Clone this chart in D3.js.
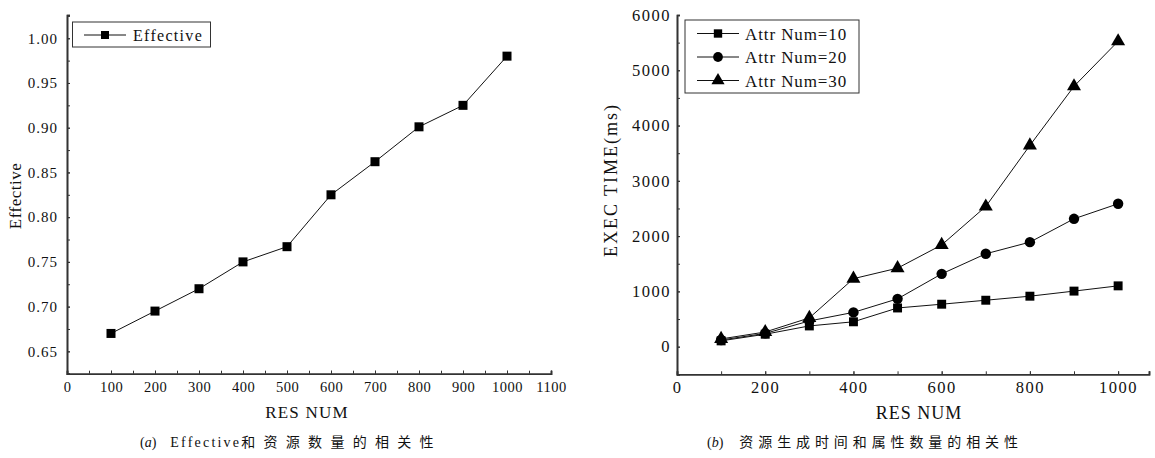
<!DOCTYPE html>
<html><head><meta charset="utf-8">
<script src="https://cdn.jsdelivr.net/npm/d3@7"></script>
<style>
body{margin:0;background:#fff;}
svg text{font-family:"Liberation Serif","Times New Roman","Noto Sans CJK SC",serif;fill:#111;}
</style></head>
<body>
<svg id="c" width="1155" height="458"></svg>
<script>
// ---- Data (a) ----
const resNumA = [100,200,300,400,500,600,700,800,900,1000];
const effective = [0.670,0.695,0.720,0.750,0.767,0.825,0.862,0.901,0.925,0.980];
const xTicksA = [0,100,200,300,400,500,600,700,800,900,1000,1100];
const yTicksA = [0.65,0.70,0.75,0.80,0.85,0.90,0.95,1.00];
// ---- Data (b) ----
const resNumB = [100,200,300,400,500,600,700,800,900,1000];
const attr10 = [105,225,375,450,700,768,840,913,1005,1100];
const attr20 = [120,240,465,620,865,1317,1680,1891,2313,2585];
const attr30 = [140,265,520,1230,1420,1840,2536,3641,4710,5525];
const seriesNamesB = ["Attr Num=10","Attr Num=20","Attr Num=30"];
const xTicksB = [0,200,400,600,800,1000];
const yTicksB = [0,1000,2000,3000,4000,5000,6000];

const svg = d3.select("#c");
const col = "#111";

function styleAxis(g){
  g.select(".domain").attr("stroke","#333").attr("stroke-width",1.6);
  g.selectAll(".tick line").attr("stroke","#333");
}

// ================= Chart (a) =================
const xA = d3.scaleLinear().domain([0,1100]).range([67,551]);
const yA = d3.scaleLinear().domain([0.625,1.026]).range([373.7,15]);

svg.append("g").attr("transform","translate(0,373.7)")
  .call(d3.axisBottom(xA).tickValues(d3.range(0,1101,50)).tickSize(-3).tickFormat(""))
  .call(styleAxis);
svg.append("g").attr("transform","translate(67,0)")
  .call(d3.axisLeft(yA).tickValues(d3.range(0.625,1.026,0.025)).tickSize(-3).tickFormat(""))
  .call(styleAxis);
const gxA = svg.append("g").attr("transform","translate(0,373.7)")
  .call(d3.axisBottom(xA).tickValues(xTicksA).tickSize(-3).tickPadding(8).tickFormat(d3.format("d")))
  .call(styleAxis);
gxA.selectAll("text").attr("font-size",14.5).attr("letter-spacing",0.5).attr("fill",col);
const gyA = svg.append("g").attr("transform","translate(67,0)")
  .call(d3.axisLeft(yA).tickValues(yTicksA).tickSize(-3).tickPadding(9).tickFormat(d3.format(".2f")))
  .call(styleAxis);
gyA.selectAll("text").attr("font-size",15).attr("letter-spacing",1).attr("fill",col);

const lineA = d3.line().x((d,i)=>xA(resNumA[i])).y(d=>yA(d));
svg.append("path").datum(effective).attr("d",lineA).attr("fill","none").attr("stroke",col).attr("stroke-width",1);
svg.append("g").selectAll("rect").data(effective).join("rect")
  .attr("x",(d,i)=>xA(resNumA[i])-4.5).attr("y",d=>yA(d)-4.5)
  .attr("width",9).attr("height",9).attr("fill","#000");

// legend (a)
svg.append("rect").attr("x",72.5).attr("y",22).attr("width",138).attr("height",25)
  .attr("fill","#fff").attr("stroke","#333").attr("stroke-width",1);
svg.append("line").attr("x1",84).attr("x2",126).attr("y1",35).attr("y2",35).attr("stroke",col);
svg.append("rect").attr("x",101).attr("y",31).attr("width",8).attr("height",8).attr("fill","#000");
svg.append("text").attr("x",133).attr("y",41).attr("font-size",16).attr("letter-spacing",1.3).text("Effective");

// axis labels (a)
svg.append("text").attr("transform","translate(21,196) rotate(-90)").attr("text-anchor","middle")
  .attr("font-size",17).attr("letter-spacing",0.5).text("Effective");
svg.append("text").attr("x",307).attr("y",418).attr("text-anchor","middle")
  .attr("font-size",17).attr("letter-spacing",1.2).text("RES NUM");

// caption (a)
const capA = svg.append("text").attr("x",140).attr("y",447).attr("font-size",14);
capA.append("tspan").text("(");
capA.append("tspan").attr("font-style","italic").text("a");
capA.append("tspan").text(")");
capA.append("tspan").attr("dx",14).attr("letter-spacing",2.2).text("Effective");
capA.append("tspan").attr("font-family","Noto Sans CJK SC").attr("letter-spacing",8.3).text("和资源数量的相关性");

// ================= Chart (b) =================
const xB = d3.scaleLinear().domain([0,1070]).range([677,1149]);
const yB = d3.scaleLinear().domain([-500,6000]).range([374.3,15]);

svg.append("g").attr("transform","translate(0,374.3)")
  .call(d3.axisBottom(xB).tickValues(d3.range(0,1001,100)).tickSize(-3).tickFormat(""))
  .call(styleAxis);
svg.append("g").attr("transform","translate(677,0)")
  .call(d3.axisLeft(yB).tickValues(d3.range(-500,6001,500)).tickSize(-3).tickFormat(""))
  .call(styleAxis);
const gxB = svg.append("g").attr("transform","translate(0,374.3)")
  .call(d3.axisBottom(xB).tickValues(xTicksB).tickSize(-3).tickPadding(7).tickFormat(d3.format("d")))
  .call(styleAxis);
gxB.selectAll("text").attr("font-size",16.5).attr("letter-spacing",1.5).attr("fill",col);
const gyB = svg.append("g").attr("transform","translate(677,0)")
  .call(d3.axisLeft(yB).tickValues(yTicksB).tickSize(-3).tickPadding(6).tickFormat(d3.format("d")))
  .call(styleAxis);
gyB.selectAll("text").attr("font-size",16.5).attr("letter-spacing",1.5).attr("fill",col);

const seriesB = [attr10, attr20, attr30];
const lineB = d3.line().x((d,i)=>xB(resNumB[i])).y(d=>yB(d));
const shapes = [d3.symbolSquare, d3.symbolCircle, d3.symbolTriangle];
const sizes = [80, 85, 85];
seriesB.forEach((s,k)=>{
  svg.append("path").datum(s).attr("d",lineB).attr("fill","none").attr("stroke",col).attr("stroke-width",1);
});
seriesB.forEach((s,k)=>{
  svg.append("g").selectAll("path").data(s).join("path")
    .attr("d",d3.symbol().type(shapes[k]).size(sizes[k]))
    .attr("transform",(d,i)=>`translate(${xB(resNumB[i])},${yB(d)})`)
    .attr("fill","#000");
});

// legend (b)
svg.append("rect").attr("x",685).attr("y",20).attr("width",174).attr("height",73)
  .attr("fill","#fff").attr("stroke","#333").attr("stroke-width",1);
seriesNamesB.forEach((n,k)=>{
  const yy = 33.5 + k*23.5;
  svg.append("line").attr("x1",697).attr("x2",739).attr("y1",yy).attr("y2",yy).attr("stroke",col);
  svg.append("path").attr("d",d3.symbol().type(shapes[k]).size(sizes[k]-10)())
    .attr("transform",`translate(718,${yy})`).attr("fill","#000");
  svg.append("text").attr("x",745).attr("y",yy+6).attr("font-size",17).attr("letter-spacing",0.9).text(n);
});

svg.append("text").attr("transform","translate(617,180) rotate(-90)").attr("text-anchor","middle")
  .attr("font-size",18).attr("letter-spacing",2).text("EXEC TIME(ms)");
svg.append("text").attr("x",919).attr("y",419).attr("text-anchor","middle")
  .attr("font-size",18).attr("letter-spacing",1).text("RES NUM");

const capB = svg.append("text").attr("x",707).attr("y",447).attr("font-size",14);
capB.append("tspan").text("(");
capB.append("tspan").attr("font-style","italic").text("b");
capB.append("tspan").text(")");
capB.append("tspan").attr("dx",16).attr("font-family","Noto Sans CJK SC").attr("letter-spacing",4.9).text("资源生成时间和属性数量的相关性");
</script>
</body></html>
